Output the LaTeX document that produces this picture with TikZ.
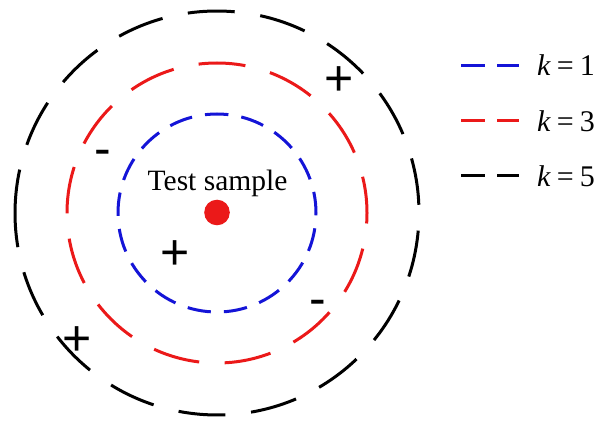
\documentclass[tikz,border=0pt]{standalone}
\usepackage{fontspec}
\setmainfont{Liberation Serif}
\newfontfamily\signfont{Liberation Sans}
\definecolor{kblue}{RGB}{20,20,215}
\definecolor{kred}{RGB}{235,25,25}
\begin{document}
\begin{tikzpicture}[x=1pt,y=1pt,
  ring/.style={line width=3pt},
  sign/.style={font=\signfont\fontsize{50}{50}\selectfont, inner sep=0pt, anchor=base},
  legline/.style={line width=3pt, dash pattern=on 24pt off 12pt},
  legtext/.style={font=\fontsize{30}{30}\selectfont, inner sep=0pt, anchor=base west}]
\useasboundingbox (0,0) rectangle (600,421);
\coordinate (c) at (217,208);
% k = 1 ring
\draw[ring, kblue, dash pattern=on 23.5pt off 13.09pt, dash phase=2.25pt]
  (c) ++(0:99) arc[start angle=0, end angle=360, radius=99];
% k = 3 ring
\draw[ring, kred, dash pattern=on 47pt off 25.5pt, dash phase=10.41pt]
  (c) ++(0:150) arc[start angle=0, end angle=360, radius=150];
% k = 5 ring
\draw[ring, black, dash pattern=on 47pt off 25.84pt]
  (c) ++(176.4:202) arc[start angle=176.4, end angle=536.4, radius=202];
% test sample
\node[circle, fill=kred, minimum size=25.6pt, inner sep=0pt] (dot) at (217,208.5) {};
\node[font=\fontsize{29.5}{29.5}\selectfont, anchor=base, inner sep=0pt] (label) at (217.5,230.3) {Test sample};
% signs
\node[sign] (p1) at (175,151.8) {+};
\node[sign] (p2) at (339.5,325.3) {+};
\node[sign] (p3) at (77,65.5) {+};
\node[sign] (m1) at (103,255.3) {-};
\node[sign] (m2) at (318,106) {-};
% legend
\coordinate (l1a) at (461,355.3); \coordinate (l1b) at (519,355.3);
\coordinate (l3a) at (461,300);   \coordinate (l3b) at (519,300);
\coordinate (l5a) at (461,245);   \coordinate (l5b) at (519,245);
\draw[legline, kblue] (l1a) -- (l1b);
\draw[legline, kred] (l3a) -- (l3b);
\draw[legline, black] (l5a) -- (l5b);
\node[legtext] (t1) at (537,345) {\textit{k}\hspace{0.2em}=\hspace{0.2em}1};
\node[legtext] (t3) at (537,289.5) {\textit{k}\hspace{0.2em}=\hspace{0.2em}3};
\node[legtext] (t5) at (537,234) {\textit{k}\hspace{0.2em}=\hspace{0.2em}5};
\end{tikzpicture}
\end{document}
